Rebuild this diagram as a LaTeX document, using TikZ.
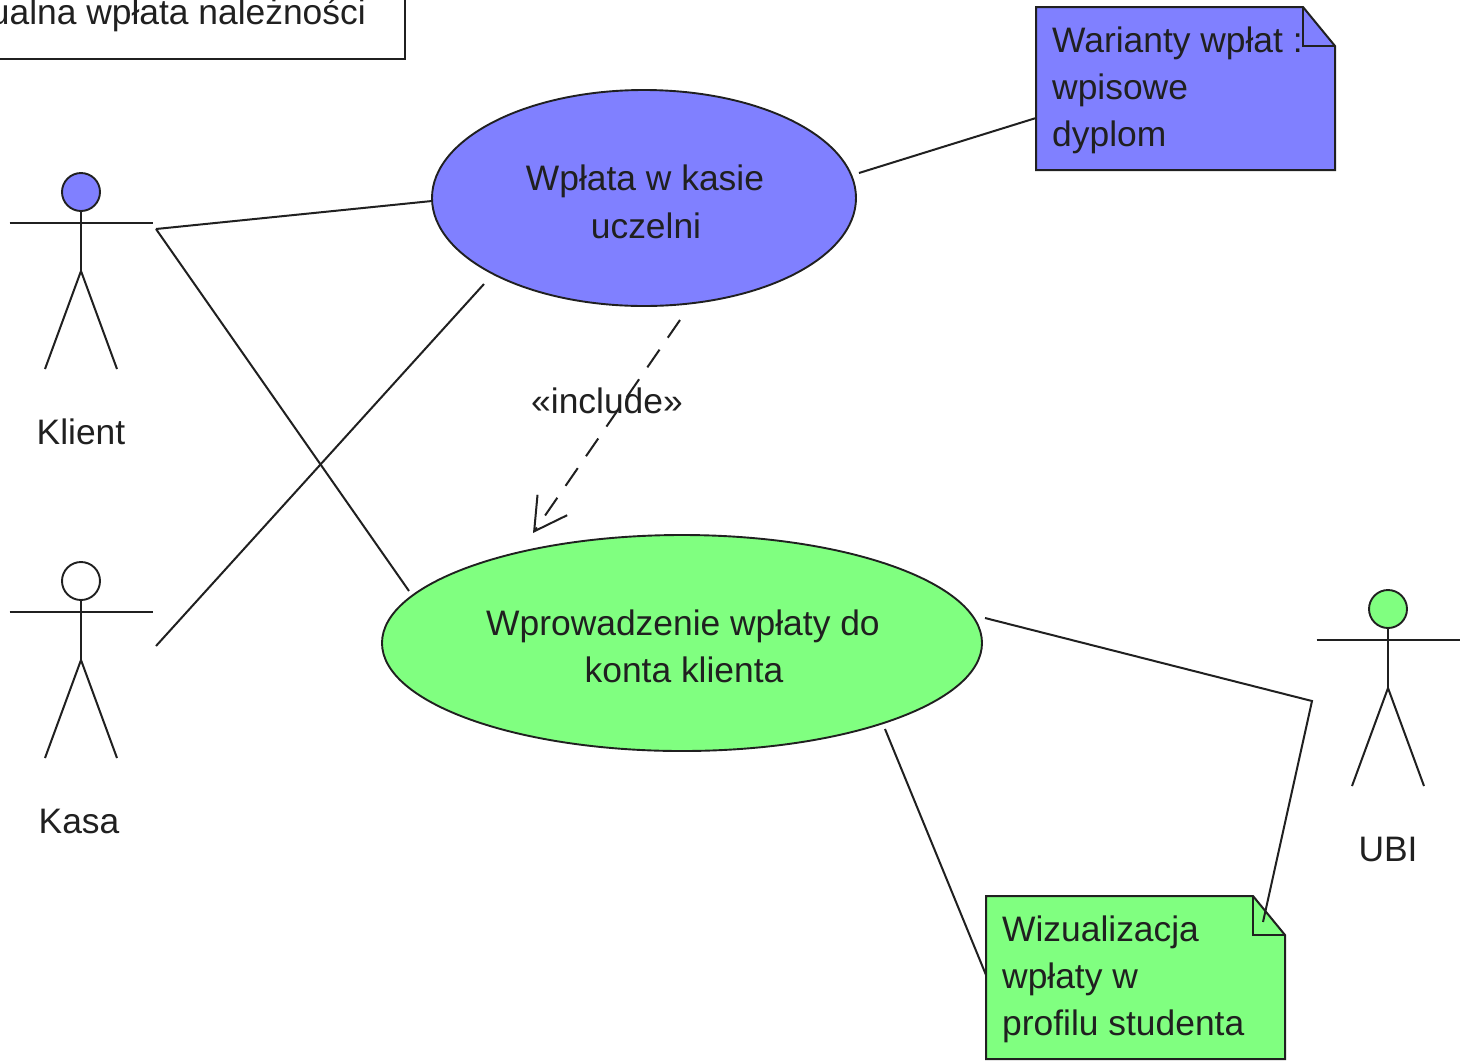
\documentclass[tikz,border=0pt]{standalone}
\usepackage{fontspec}
\setmainfont{Liberation Sans}
\usetikzlibrary{arrows.meta,shapes.geometric}
\definecolor{bluefill}{RGB}{128,128,255}
\definecolor{greenfill}{RGB}{128,255,128}
\definecolor{ink}{RGB}{32,32,32}
\tikzset{
  x=1pt,y=-1pt,
  line/.style={draw=ink,line width=2pt},
  usecase/.style={ellipse,draw=ink,line width=1.9pt,inner sep=0pt,align=center,text=ink},
  lbl/.style={inner sep=0pt,text=ink,align=left},
  head/.style={circle,draw=ink,line width=1.9pt,minimum size=38pt,inner sep=0pt},
  notebody/.style={draw=ink,line width=2pt,line join=miter},
}
\newcommand{\txt}{\fontsize{35.4}{47}\selectfont}
\newcommand{\actor}[4]{%
  % #1 name, #2 x, #3 head y, #4 fill
  \node[head,fill=#4] (#1head) at (#2,#3) {};
  \coordinate (#1hip) at (#2,#3+79);
  \coordinate (#1armL) at (#2-71.5,#3+31);
  \coordinate (#1armR) at (#2+71.5,#3+31);
  \coordinate (#1legL) at (#2-36,#3+177);
  \coordinate (#1legR) at (#2+36,#3+177);
  \draw[line] (#1head.south) -- (#1hip);
  \draw[line] (#1armL) -- (#1armR);
  \draw[line] (#1legL) -- (#1hip) -- (#1legR);
}
\newcommand{\notebox}[4]{%
  % #1 name, #2 left, #3 top, #4 fill
  \coordinate (#1tl) at (#2,#3);
  \coordinate (#1f1) at (#2+267,#3);
  \coordinate (#1f2) at (#2+299,#3+39);
  \coordinate (#1br) at (#2+299,#3+163);
  \coordinate (#1bl) at (#2,#3+163);
  \coordinate (#1f3) at (#2+267,#3+39);
  \draw[notebody,fill=#4] (#1tl) -- (#1f1) -- (#1f2) -- (#1br) -- (#1bl) -- cycle;
  \draw[notebody] (#1f1) -- (#1f3) -- (#1f2);
}
\begin{document}
\begin{tikzpicture}
\useasboundingbox (0,0) rectangle (1461,1061);
\clip (0,0) rectangle (1461,1061);
% top-left clipped box
\coordinate (tbA) at (-5,-5);
\coordinate (tbB) at (405,59);
\draw[line,fill=white] (tbA) rectangle (tbB);
\node[lbl,anchor=base east] (tbtext) at (366,24) {\txt ualna wpłata należności};

% connection points
\coordinate (klR) at (156,229);
\coordinate (ksR) at (156,646);
\coordinate (w1a) at (432,201);
\coordinate (w1b) at (484,284);
\coordinate (w1c) at (859,173);
\coordinate (w1d) at (680,320);
\coordinate (w2a) at (409,591);
\coordinate (w2b) at (533,533);
\coordinate (w2c) at (985,618);
\coordinate (w2d) at (885,729);
\coordinate (bend) at (1312,701);
\coordinate (ubiEnd) at (1263,922);
\coordinate (n1a) at (1036,118);
\coordinate (n2a) at (986,975);

% use cases
\node[usecase,fill=bluefill,minimum width=424pt,minimum height=216pt] (wk) at (644,198) {};
\node[usecase,fill=greenfill,minimum width=600pt,minimum height=216pt] (wp) at (682,643) {};
\node[lbl,align=center,anchor=base] (wkt1) at (645,190) {\txt Wpłata w kasie};
\node[lbl,align=center,anchor=base] (wkt2) at (646,238) {\txt uczelni};
\node[lbl,align=center,anchor=base] (wpt1) at (683,635) {\txt Wprowadzenie wpłaty do};
\node[lbl,align=center,anchor=base] (wpt2) at (684,682) {\txt konta klienta};

% notes
\notebox{nb}{1036}{7}{bluefill}
\notebox{ng}{986}{896}{greenfill}
\node[lbl,anchor=base west] (nb1) at (1052,52) {\txt Warianty wpłat :};
\node[lbl,anchor=base west] (nb2) at (1052,99) {\txt wpisowe};
\node[lbl,anchor=base west] (nb3) at (1052,146) {\txt dyplom};
\node[lbl,anchor=base west] (ng1) at (1002,941) {\txt Wizualizacja};
\node[lbl,anchor=base west] (ng2) at (1002,988) {\txt wpłaty w};
\node[lbl,anchor=base west] (ng3) at (1002,1035) {\txt profilu studenta};

% actors
\actor{kl}{81}{192}{bluefill}
\actor{ks}{81}{581}{white}
\actor{ub}{1388}{609}{greenfill}
\node[lbl,anchor=base] (klL) at (81,444) {\txt Klient};
\node[lbl,anchor=base] (ksL) at (79,833) {\txt Kasa};
\node[lbl,anchor=base] (ubL) at (1388,861) {\txt UBI};

% connectors
\draw[line] (klR) -- (w1a);
\draw[line] (klR) -- (w2a);
\draw[line] (ksR) -- (w1b);
\draw[line] (w1c) -- (n1a);
\draw[line] (w2c) -- (bend) -- (ubiEnd);
\draw[line] (w2d) -- (n2a);
\draw[line,dash pattern=on 21.5pt off 14.5pt,-{Straight Barb[length=32pt,width=36pt,line width=2pt]}] (w1d) -- (w2b);
\node[lbl,anchor=base] (incl) at (607,413) {\txt «include»};
\end{tikzpicture}
\end{document}
